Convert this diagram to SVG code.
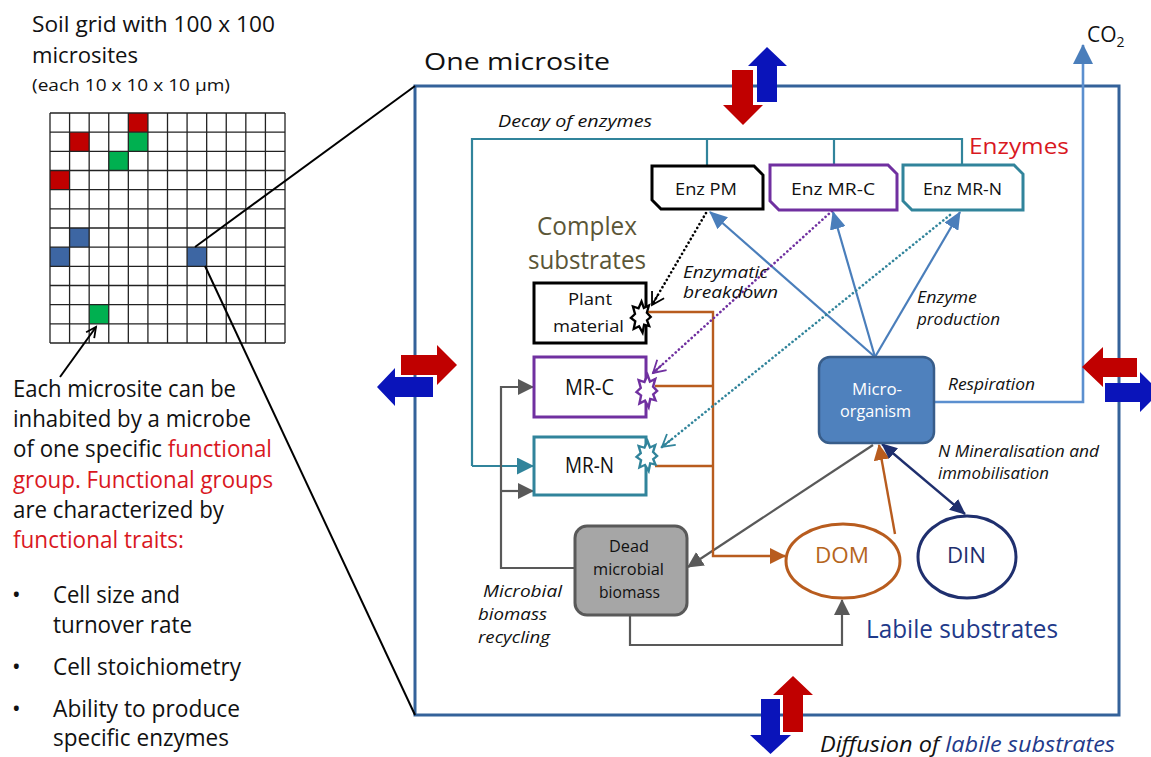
<svg xmlns="http://www.w3.org/2000/svg" width="1151" height="757" viewBox="0 0 1151 757">
<style>
text{font-family:"Open Sans","Liberation Sans",sans-serif;fill:#111}
.i{font-style:italic}
.red{fill:#D9181F}
.grid line{stroke:#222;stroke-width:1.3}
.fat-r{fill:#C00000}
.fat-b{fill:#0A14BA}
.dot{fill:none;stroke-width:2.6;stroke-linecap:round;stroke-dasharray:0.1 4.2}
</style>
<defs>
<marker id="aGrey" markerWidth="16" markerHeight="16" refX="15" refY="8" orient="auto" markerUnits="userSpaceOnUse"><path d="M0,0 L16,8 L0,16 Z" fill="#595959"/></marker>
<marker id="aTeal" markerWidth="17" markerHeight="17" refX="16" refY="8.5" orient="auto" markerUnits="userSpaceOnUse"><path d="M0,0 L17,8.5 L0,17 Z" fill="#31849B"/></marker>
<marker id="aOrange" markerWidth="16" markerHeight="16" refX="15" refY="8" orient="auto" markerUnits="userSpaceOnUse"><path d="M0,0 L16,8 L0,16 Z" fill="#B85C1E"/></marker>
<marker id="aBlue" markerWidth="18" markerHeight="16" refX="17" refY="8" orient="auto" markerUnits="userSpaceOnUse"><path d="M0,0 L18,8 L0,16 Z" fill="#4A7EBB"/></marker>
<marker id="aCO2" markerWidth="20" markerHeight="20" refX="19" refY="10" orient="auto" markerUnits="userSpaceOnUse"><path d="M0,0 L20,10 L0,20 Z" fill="#4A7EBB"/></marker>
<marker id="aNavy" markerWidth="16" markerHeight="14" refX="15" refY="7" orient="auto-start-reverse" markerUnits="userSpaceOnUse"><path d="M0,0 L16,7 L0,14 Z" fill="#1F2F6E"/></marker>
<marker id="oBlack" markerWidth="12" markerHeight="14" refX="12" refY="7" orient="auto" markerUnits="userSpaceOnUse" overflow="visible"><path d="M0,0 L12,7 L0,14 M12,7 L0,7" fill="none" stroke="#000" stroke-width="1.8"/></marker>
<marker id="oPurple" markerWidth="12" markerHeight="14" refX="12" refY="7" orient="auto" markerUnits="userSpaceOnUse" overflow="visible"><path d="M0,0 L12,7 L0,14 M12,7 L0,7" fill="none" stroke="#7030A0" stroke-width="1.8"/></marker>
<marker id="oTeal" markerWidth="12" markerHeight="14" refX="12" refY="7" orient="auto" markerUnits="userSpaceOnUse" overflow="visible"><path d="M0,0 L12,7 L0,14 M12,7 L0,7" fill="none" stroke="#31849B" stroke-width="1.8"/></marker>
<marker id="oThin" markerWidth="10" markerHeight="10" refX="10" refY="5" orient="auto" markerUnits="userSpaceOnUse" overflow="visible"><path d="M0,0 L10,5 L0,10" fill="none" stroke="#000" stroke-width="1.8"/></marker>
<path id="burst" d="M7.5,0 L4.6,2.6 L6.3,7.2 L2.4,6.1 L1.2,12.5 L-1.5,7.4 L-5.6,9.6 L-4.4,3.4 L-7.8,0.8 L-4.6,-2.4 L-6.2,-8.4 L-1.9,-6.9 L0.4,-12.5 L2.2,-7.2 L6.1,-9.2 L4.5,-3.4 Z" fill="#fff" stroke-width="1.8" stroke-linejoin="miter"/>
</defs>

<g id="grid-title">
<text x="32" y="32" font-size="21" textLength="243" lengthAdjust="spacingAndGlyphs">Soil grid with 100 x 100</text>
<text x="32" y="63" font-size="21" textLength="106" lengthAdjust="spacingAndGlyphs">microsites</text>
<text x="32" y="91" font-size="17" textLength="198" lengthAdjust="spacingAndGlyphs">(each 10 x 10 x 10 µm)</text>
</g>
<g id="soil-grid">
<rect x="128.33" y="113" width="19.58" height="19.17" fill="#C00000"/>
<rect x="69.58" y="132.17" width="19.58" height="19.17" fill="#C00000"/>
<rect x="128.33" y="132.17" width="19.58" height="19.17" fill="#00B050"/>
<rect x="108.75" y="151.33" width="19.58" height="19.17" fill="#00B050"/>
<rect x="50" y="170.5" width="19.58" height="19.17" fill="#C00000"/>
<rect x="69.58" y="228" width="19.58" height="19.17" fill="#3D66A3"/>
<rect x="50" y="247.17" width="19.58" height="19.17" fill="#3D66A3"/>
<rect x="187.08" y="247.17" width="19.58" height="19.17" fill="#3D66A3"/>
<rect x="89.17" y="304.67" width="19.58" height="19.17" fill="#00B050"/>
<g class="grid">
<line x1="50" y1="113" x2="50" y2="343"/><line x1="69.58" y1="113" x2="69.58" y2="343"/><line x1="89.17" y1="113" x2="89.17" y2="343"/><line x1="108.75" y1="113" x2="108.75" y2="343"/><line x1="128.33" y1="113" x2="128.33" y2="343"/><line x1="147.92" y1="113" x2="147.92" y2="343"/><line x1="167.5" y1="113" x2="167.5" y2="343"/><line x1="187.08" y1="113" x2="187.08" y2="343"/><line x1="206.67" y1="113" x2="206.67" y2="343"/><line x1="226.25" y1="113" x2="226.25" y2="343"/><line x1="245.83" y1="113" x2="245.83" y2="343"/><line x1="265.42" y1="113" x2="265.42" y2="343"/><line x1="285" y1="113" x2="285" y2="343"/>
<line x1="50" y1="113" x2="285" y2="113"/><line x1="50" y1="132.17" x2="285" y2="132.17"/><line x1="50" y1="151.33" x2="285" y2="151.33"/><line x1="50" y1="170.5" x2="285" y2="170.5"/><line x1="50" y1="189.67" x2="285" y2="189.67"/><line x1="50" y1="208.83" x2="285" y2="208.83"/><line x1="50" y1="228" x2="285" y2="228"/><line x1="50" y1="247.17" x2="285" y2="247.17"/><line x1="50" y1="266.33" x2="285" y2="266.33"/><line x1="50" y1="285.5" x2="285" y2="285.5"/><line x1="50" y1="304.67" x2="285" y2="304.67"/><line x1="50" y1="323.83" x2="285" y2="323.83"/><line x1="50" y1="343" x2="285" y2="343"/>
</g>
</g>

<g id="description">
<text x="13" y="397" font-size="23" textLength="223" lengthAdjust="spacingAndGlyphs">Each microsite can be</text>
<text x="13" y="427" font-size="23" textLength="238" lengthAdjust="spacingAndGlyphs">inhabited by a microbe</text>
<text x="13" y="457" font-size="23" textLength="259" lengthAdjust="spacingAndGlyphs">of one specific <tspan class="red">functional</tspan></text>
<text x="13" y="488" font-size="23" class="red" textLength="260" lengthAdjust="spacingAndGlyphs">group. Functional groups</text>
<text x="13" y="518" font-size="23" textLength="211" lengthAdjust="spacingAndGlyphs">are characterized by</text>
<text x="13" y="548" font-size="23" class="red" textLength="171" lengthAdjust="spacingAndGlyphs">functional traits:</text>
<text x="12" y="603" font-size="23">•</text>
<text x="53" y="603" font-size="23" textLength="127" lengthAdjust="spacingAndGlyphs">Cell size and</text>
<text x="53" y="633" font-size="23" textLength="139" lengthAdjust="spacingAndGlyphs">turnover rate</text>
<text x="12" y="675" font-size="23">•</text>
<text x="53" y="675" font-size="23" textLength="188" lengthAdjust="spacingAndGlyphs">Cell stoichiometry</text>
<text x="12" y="717" font-size="23">•</text>
<text x="53" y="717" font-size="23" textLength="187" lengthAdjust="spacingAndGlyphs">Ability to produce</text>
<text x="53" y="746" font-size="23" textLength="176" lengthAdjust="spacingAndGlyphs">specific enzymes</text>
</g>

<g id="microsite">
<rect x="415" y="86" width="704" height="629" fill="none" stroke="#34629A" stroke-width="3"/>
<text x="424" y="70" font-size="24" textLength="186" lengthAdjust="spacingAndGlyphs">One microsite</text>
</g>

<g id="zoom-lines" stroke="#000" stroke-width="2" fill="none">
<line x1="195" y1="247" x2="415" y2="86"/>
<line x1="205" y1="266" x2="415" y2="715"/>
<line x1="60" y1="377" x2="96" y2="327" marker-end="url(#oThin)"/>
</g>

<g id="connectors" fill="none">
<path d="M472,466 V139 H962 V165 M707,139 V166 M834,139 V165" stroke="#31849B" stroke-width="2.2"/>
<path d="M472,466 H533" stroke="#31849B" stroke-width="2.2" marker-end="url(#aTeal)"/>
<path d="M575,568 H501 V387 H533" stroke="#595959" stroke-width="2.2" marker-end="url(#aGrey)"/>
<path d="M501,491 H533" stroke="#595959" stroke-width="2.2" marker-end="url(#aGrey)"/>
<path d="M630,615 V645 H842 V600" stroke="#595959" stroke-width="2.2" marker-end="url(#aGrey)"/>
<path d="M873,445 L688,567" stroke="#595959" stroke-width="2.2" marker-end="url(#aGrey)"/>
<path d="M648,312 H713 V556 H785" stroke="#B85C1E" stroke-width="2.4" marker-end="url(#aOrange)"/>
<path d="M655,386 H713 M655,466 H713" stroke="#B85C1E" stroke-width="2.4"/>
<path d="M895,534 L879,445" stroke="#B85C1E" stroke-width="2.4" marker-end="url(#aOrange)"/>
<path d="M882,444 L965,514" stroke="#1F2F6E" stroke-width="2.4" marker-start="url(#aNavy)" marker-end="url(#aNavy)"/>
<path d="M875,357 L710,212" stroke="#4A7EBB" stroke-width="2.2" marker-end="url(#aBlue)"/>
<path d="M875,357 L833,212" stroke="#4A7EBB" stroke-width="2.2" marker-end="url(#aBlue)"/>
<path d="M875,357 L960,212" stroke="#4A7EBB" stroke-width="2.2" marker-end="url(#aBlue)"/>
<path d="M934,402 H1083 V45" stroke="#5B8FCF" stroke-width="2.6" marker-end="url(#aCO2)"/>
<path class="dot" d="M706,213 L652,305" stroke="#000" marker-end="url(#oBlack)"/>
<path class="dot" d="M832,211 L653,373" stroke="#7030A0" marker-end="url(#oPurple)"/>
<path class="dot" d="M950,215 L662,447" stroke="#31849B" marker-end="url(#oTeal)"/>
</g>

<g id="exchange-top">
<polygon class="fat-r" points="732,70 753,70 753,105 763,105 743,125 723,105 732,105"/>
<polygon class="fat-b" points="757,102 777,102 777,66 787,66 767,47 748,66 757,66"/>
</g>
<g id="exchange-left">
<polygon class="fat-r" points="401,355 437,355 437,345 457,365 437,385 437,375 401,375"/>
<polygon class="fat-b" points="433,377 395,377 395,368 377,387 395,406 395,397 433,397"/>
</g>
<g id="exchange-right">
<polygon class="fat-r" points="1137,358 1103,358 1103,347 1082,367 1103,387 1103,377 1137,377"/>
<polygon class="fat-b" points="1105,383 1140,383 1140,372 1160,392 1140,412 1140,402 1105,402"/>
</g>
<g id="exchange-bottom">
<polygon class="fat-b" points="761,699 780,699 780,735 791,735 770.5,754 750,735 761,735"/>
<polygon class="fat-r" points="783,732 803,732 803,695 813,695 793,676 773,695 783,695"/>
</g>

<g id="labels">
<text x="498" y="127" font-size="17" class="i" textLength="154" lengthAdjust="spacingAndGlyphs">Decay of enzymes</text>
<text x="969" y="154" font-size="22" class="red" textLength="100" lengthAdjust="spacingAndGlyphs">Enzymes</text>
<text x="537" y="235" font-size="25" style="fill:#5B5637" textLength="100" lengthAdjust="spacingAndGlyphs">Complex</text>
<text x="528" y="269" font-size="25" style="fill:#5B5637" textLength="118" lengthAdjust="spacingAndGlyphs">substrates</text>
<text x="683" y="278" font-size="16" class="i" textLength="85" lengthAdjust="spacingAndGlyphs">Enzymatic</text>
<text x="683" y="298" font-size="16" class="i" textLength="95" lengthAdjust="spacingAndGlyphs">breakdown</text>
<text x="917" y="303" font-size="16" class="i" textLength="60" lengthAdjust="spacingAndGlyphs">Enzyme</text>
<text x="917" y="325" font-size="16" class="i" textLength="83" lengthAdjust="spacingAndGlyphs">production</text>
<text x="948" y="390" font-size="16" class="i" textLength="87" lengthAdjust="spacingAndGlyphs">Respiration</text>
<text x="938" y="457" font-size="16" class="i" textLength="161" lengthAdjust="spacingAndGlyphs">N Mineralisation and</text>
<text x="938" y="479" font-size="16" class="i" textLength="111" lengthAdjust="spacingAndGlyphs">immobilisation</text>
<text x="483" y="597" font-size="17" class="i" textLength="79" lengthAdjust="spacingAndGlyphs">Microbial</text>
<text x="478" y="620" font-size="17" class="i" textLength="69" lengthAdjust="spacingAndGlyphs">biomass</text>
<text x="478" y="643" font-size="17" class="i" textLength="72" lengthAdjust="spacingAndGlyphs">recycling</text>
<text x="866" y="638" font-size="25" style="fill:#1F3A8A" textLength="192" lengthAdjust="spacingAndGlyphs">Labile substrates</text>
<text x="820" y="752" font-size="22" class="i" textLength="295" lengthAdjust="spacingAndGlyphs">Diffusion of <tspan style="fill:#1F3A8A">labile substrates</tspan></text>
<text x="1087" y="42" font-size="21">CO<tspan font-size="14" dy="5">2</tspan></text>
</g>

<g id="enz-pm">
<path d="M652,166 H754 L763,175 V209 H661 L652,200 Z" fill="#fff" stroke="#000" stroke-width="3"/>
<text x="675" y="195" font-size="17" textLength="62" lengthAdjust="spacingAndGlyphs">Enz PM</text>
</g>
<g id="enz-mrc">
<path d="M770,165 H888 L897,174 V210 H779 L770,201 Z" fill="#fff" stroke="#7030A0" stroke-width="3"/>
<text x="791" y="195" font-size="17" textLength="84" lengthAdjust="spacingAndGlyphs">Enz MR-C</text>
</g>
<g id="enz-mrn">
<path d="M903,165 H1014 L1023,174 V210 H912 L903,201 Z" fill="#fff" stroke="#31849B" stroke-width="3"/>
<text x="923" y="195" font-size="17" textLength="79" lengthAdjust="spacingAndGlyphs">Enz MR-N</text>
</g>
<g id="plant-material">
<rect x="534" y="283" width="112" height="60" fill="#fff" stroke="#000" stroke-width="3"/>
<text x="568" y="305" font-size="17" textLength="44" lengthAdjust="spacingAndGlyphs">Plant</text>
<text x="553" y="332" font-size="17" textLength="71" lengthAdjust="spacingAndGlyphs">material</text>
<use href="#burst" transform="translate(641,317) scale(1.3,1.25)" stroke="#000"/>
</g>
<g id="mr-c">
<rect x="534" y="357" width="112" height="60" fill="#fff" stroke="#7030A0" stroke-width="3"/>
<text x="565" y="395" font-size="21" textLength="49" lengthAdjust="spacingAndGlyphs">MR-C</text>
<use href="#burst" transform="translate(647,391) scale(1.35,1.3)" stroke="#7030A0"/>
</g>
<g id="mr-n">
<rect x="534" y="437" width="112" height="58" fill="#fff" stroke="#31849B" stroke-width="3"/>
<text x="565" y="473" font-size="21" textLength="49" lengthAdjust="spacingAndGlyphs">MR-N</text>
<use href="#burst" transform="translate(647,456) scale(1.35,1.2)" stroke="#31849B"/>
</g>
<g id="microorganism">
<rect x="819" y="357" width="115" height="86" rx="11" fill="#4F81BD" stroke="#385D8A" stroke-width="2.5"/>
<text x="852" y="395" font-size="16" style="fill:#fff" textLength="50" lengthAdjust="spacingAndGlyphs">Micro-</text>
<text x="840" y="417" font-size="16" style="fill:#fff" textLength="71" lengthAdjust="spacingAndGlyphs">organism</text>
</g>
<g id="dead-biomass">
<rect x="575" y="526" width="112" height="89" rx="12" fill="#A6A6A6" stroke="#595959" stroke-width="3"/>
<text x="609" y="552" font-size="17" textLength="40" lengthAdjust="spacingAndGlyphs">Dead</text>
<text x="593" y="575" font-size="17" textLength="71" lengthAdjust="spacingAndGlyphs">microbial</text>
<text x="599" y="598" font-size="17" textLength="61" lengthAdjust="spacingAndGlyphs">biomass</text>
</g>
<g id="dom">
<ellipse cx="843" cy="561" rx="57" ry="37" fill="#fff" stroke="#B85C1E" stroke-width="3"/>
<text x="815" y="563" font-size="22" style="fill:#B5651D" textLength="54" lengthAdjust="spacingAndGlyphs">DOM</text>
</g>
<g id="din">
<ellipse cx="967" cy="557" rx="49" ry="41" fill="#fff" stroke="#1F2F6E" stroke-width="3"/>
<text x="947" y="563" font-size="22" style="fill:#1F2F6E" textLength="39" lengthAdjust="spacingAndGlyphs">DIN</text>
</g>
</svg>
